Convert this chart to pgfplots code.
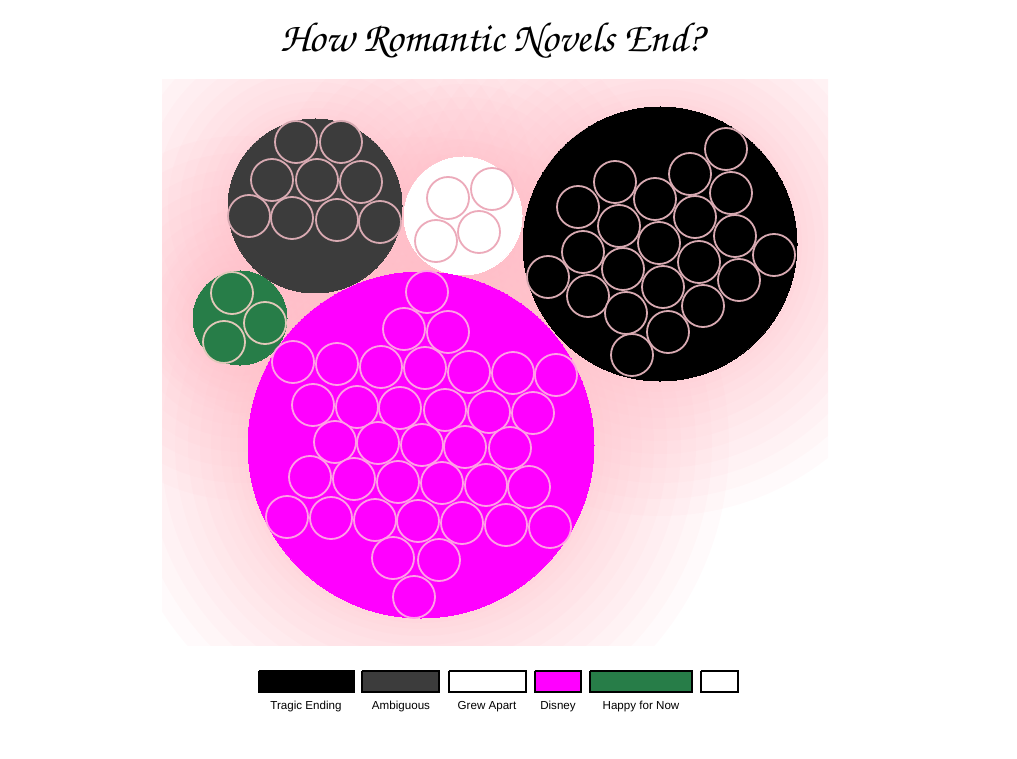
\documentclass[border=0pt]{standalone}
\usepackage{fontspec}
\setmainfont{Liberation Sans}
\newfontfamily\titlefont{TeX Gyre Chorus}
\usepackage{pgfplots}
\pgfplotsset{compat=1.18}
\usepackage{pgfplotstable}

\definecolor{amb}{RGB}{60,60,60}
\definecolor{hap}{RGB}{39,125,72}
\definecolor{dis}{RGB}{255,0,255}
\definecolor{glow}{RGB}{255,182,193}
\definecolor{ringdark}{RGB}{216,170,178}
\definecolor{ringwhite}{RGB}{236,170,186}
\definecolor{ringmag}{RGB}{255,160,230}
\definecolor{ringgreen}{RGB}{225,200,185}

\pgfplotstableread{
x y r
315 206 87
463 216 59
660 244 137
240 318 47
421 445 173
}\big

\pgfplotstableread{
x y r
315 206 87
}\bigamb
\pgfplotstableread{
x y r
463 216 59
}\biggrew
\pgfplotstableread{
x y r
660 244 137
}\bigtrag
\pgfplotstableread{
x y r
240 318 47
}\bighap
\pgfplotstableread{
x y r
421 445 173
}\bigdis

\pgfplotstableread{
x y r
296 142 21
341 142 21
272 180 21
317 180 21
361 182 21
249 216 21
292 218 21
337 220 21
380 222 21
}\smallamb

\pgfplotstableread{
x y r
448 198 21
492 189 21
436 241 21
479 232 21
}\smallgrew

\pgfplotstableread{
x y r
232 293 21
265 323 21
224 342 21
}\smallhap

\pgfplotstableread{
x y r
726 149 21
615 182 21
690 174 21
578 207 21
655 199 21
731 193 21
619 226 21
695 217 21
583 252 21
659 243 21
735 236 21
774 255 21
548 277 21
623 269 21
699 262 21
588 296 21
663 287 21
739 280 21
626 313 21
703 306 21
668 332 21
632 355 21
}\smalltrag

\pgfplotstableread{
x y r
427 292 21
404 329 21
448 332 21
293 362 21
337 364 21
381 367 21
425 368 21
469 372 21
513 373 21
556 375 21
313 405 21
357 407 21
400 408 21
445 410 21
489 412 21
533 413 21
335 442 21
378 443 21
422 445 21
465 447 21
510 448 21
310 477 21
354 479 21
398 482 21
442 483 21
486 485 21
529 487 21
287 517 21
331 518 21
375 520 21
418 521 21
462 523 21
506 525 21
550 527 21
393 558 21
439 560 21
414 597 21
}\smalldis

\pgfplotsset{
  circ/.style={scatter, only marks, mark=*,
    visualization depends on={\thisrow{r} \as \rad},
    scatter/@pre marker code/.code={\pgfmathsetmacro\rr{0.5*(\rad+#1)}\scope[mark size=\rr pt]},
    scatter/@post marker code/.code={\endscope}},
  circ/.default=0,
  glowlayer/.style={circ=#1, mark options={fill=glow, draw=glow, draw opacity=0, fill opacity=0.062, line width=0pt}},
  pix/.style={x=0.5pt, y=0.5pt, y dir=reverse, hide axis, scale only axis, anchor=south west}
}
\tikzset{leg/.style={font=\fontsize{5.8}{6.5}\selectfont, anchor=base}}

\begin{document}
\begin{tikzpicture}
\useasboundingbox (0,0) rectangle (508.5pt,379.5pt);
% glow
\begin{axis}[pix, at={(81pt,57pt)}, xmin=162, xmax=828, ymin=80, ymax=645, clip=true, clip marker paths=true]
\addplot[glowlayer=135] table {\big};
\addplot[glowlayer=118] table {\big};
\addplot[glowlayer=102] table {\big};
\addplot[glowlayer=87] table {\big};
\addplot[glowlayer=73] table {\big};
\addplot[glowlayer=60] table {\big};
\addplot[glowlayer=48] table {\big};
\addplot[glowlayer=37] table {\big};
\addplot[glowlayer=27] table {\big};
\addplot[glowlayer=18] table {\big};
\addplot[glowlayer=11] table {\big};
\addplot[glowlayer=5] table {\big};
\end{axis}
\begin{axis}[pix, at={(0pt,0pt)}, xmin=0, xmax=1017, ymin=0, ymax=759, clip=false]
% big circles
\addplot[circ, mark options={fill=amb, draw=amb, line width=0pt}] table {\bigamb};
\addplot[circ, mark options={fill=white, draw=white, line width=0pt}] table {\biggrew};
\addplot[circ, mark options={fill=black, draw=black, line width=0pt}] table {\bigtrag};
\addplot[circ, mark options={fill=hap, draw=hap, line width=0pt}] table {\bighap};
\addplot[circ, mark options={fill=dis, draw=dis, line width=0pt}] table {\bigdis};
% small circles
\addplot[circ, mark options={fill=amb, draw=ringdark, line width=0.9pt}] table {\smallamb};
\addplot[circ, mark options={fill=white, draw=ringwhite, line width=0.9pt}] table {\smallgrew};
\addplot[circ, mark options={fill=black, draw=ringdark, line width=0.9pt}] table {\smalltrag};
\addplot[circ, mark options={fill=hap, draw=ringgreen, line width=0.9pt}] table {\smallhap};
\addplot[circ, mark options={fill=dis, draw=ringmag, line width=0.9pt}] table {\smalldis};
% legend swatches
\addplot[fill=black, draw=black, line width=0.9pt] coordinates {(259,671) (354,671) (354,692) (259,692) (259,671)};
\addplot[fill=amb, draw=black, line width=0.9pt] coordinates {(362,671) (439,671) (439,692) (362,692) (362,671)};
\addplot[fill=white, draw=black, line width=0.9pt] coordinates {(449,671) (526,671) (526,692) (449,692) (449,671)};
\addplot[fill=dis, draw=black, line width=0.9pt] coordinates {(535,671) (581,671) (581,692) (535,692) (535,671)};
\addplot[fill=hap, draw=black, line width=0.9pt] coordinates {(590,671) (692,671) (692,692) (590,692) (590,671)};
\addplot[fill=white, draw=black, line width=0.9pt] coordinates {(701,671) (738,671) (738,692) (701,692) (701,671)};
\node[leg] at (axis cs:306,709) {Tragic Ending};
\node[leg] at (axis cs:401,709) {Ambiguous};
\node[leg] at (axis cs:487,709) {Grew Apart};
\node[leg] at (axis cs:558,709) {Disney};
\node[leg] at (axis cs:641,709) {Happy for Now};
\node[font=\titlefont\fontsize{21}{24}\selectfont] at (axis cs:492,41) {How Romantic Novels End?};
\end{axis}
\end{tikzpicture}
\end{document}
